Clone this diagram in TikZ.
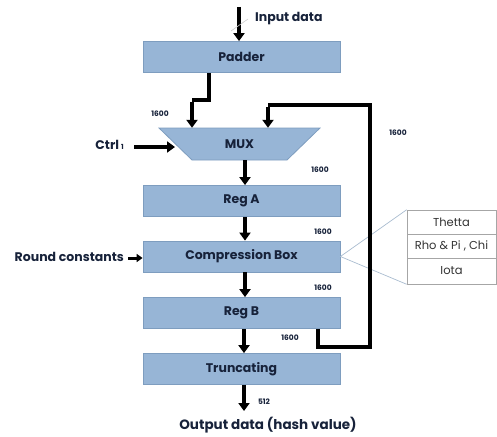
\documentclass[tikz,border=0pt]{standalone}
\usepackage{fontspec}
\setmainfont{Poppins}
\usetikzlibrary{arrows.meta}
\definecolor{boxfill}{HTML}{97B5D6}
\definecolor{boxline}{HTML}{7E9DBF}
\definecolor{txtdark}{HTML}{17223A}
\definecolor{callout}{HTML}{A9BCCF}
\tikzset{
  blk/.style={draw=boxline, line width=0.8pt, fill=boxfill, minimum width=197pt, minimum height=31pt, inner sep=0pt, font=\fontsize{12.5}{14}\selectfont\bfseries, text=txtdark},
  bus/.style={line width=3.6pt, -{Triangle[width=11pt,length=8pt]}},
  busline/.style={line width=3.8pt},
  lbl/.style={font=\fontsize{7.5}{9}\selectfont\bfseries, text=txtdark, inner sep=0pt},
  side/.style={font=\fontsize{12.5}{14}\selectfont\bfseries, text=txtdark, inner sep=0pt},
  cell/.style={draw=gray!70, line width=0.6pt, fill=white, minimum width=89pt, inner sep=0pt, font=\fontsize{11.5}{13}\selectfont, text=black!80}
}
\begin{document}
\begin{tikzpicture}[x=1pt,y=-1pt]
\useasboundingbox (0,0) rectangle (497,436);
% blocks
\node[blk] (padder) at (241.5,57) {Padder};
\fill[boxfill, draw=boxline, line width=0.8pt] (159,128) -- (320,128) -- (287,160) -- (192,160) -- cycle;
\node[minimum width=95pt, minimum height=32pt, inner sep=0pt, font=\fontsize{12.5}{14}\selectfont\bfseries, text=txtdark] (mux) at (239.5,144) {MUX};
\node[blk] (rega) at (241.5,201) {Reg A};
\node[blk] (comp) at (241.5,256.5) {Compression Box};
\node[blk] (regb) at (241.5,313) {Reg B};
\node[blk] (trunc) at (241.5,369) {Truncating};
% table
\node[cell, minimum height=24pt] (t1) at (451.5,222) {Thetta};
\node[cell, minimum height=24pt] (t2) at (451.5,246) {Rho \& Pi , Chi};
\node[cell, minimum height=26pt] (t3) at (451.5,271) {Iota};
\draw[callout, line width=0.7pt] (t1.north west) -- (comp.east) -- (t3.south west);
% input
\coordinate (inp) at (239,7);
\draw[bus] (inp) -- (inp |- padder.north);
\coordinate (sl1) at (231,31);
\coordinate (sl2) at (248,19);
\draw[gray!40, line width=0.6pt] (sl1) -- (sl2);
\node[side, anchor=west] (inlbl) at (255,19) {Input data};
% padder to mux
\coordinate (p1) at (209,100);
\coordinate (p2) at (192,100);
\draw[busline] (padder.south -| p1) -- (p1) -- (p2);
\draw[bus] ([yshift=-1.9pt]p2) -- (p2 |- mux.north);
\node[lbl] (l1) at (160,114) {1600};
% feedback
\coordinate (f1) at (318,347);
\coordinate (f2) at (370,347);
\coordinate (f3) at (370,105);
\coordinate (f4) at (268,105);
\draw[busline, line join=miter] (regb.south -| f1) -- (f1) -- (f2) -- (f3) -- (f4);
\draw[bus] ([yshift=-1.9pt]f4) -- (f4 |- mux.north);
\node[lbl] (l2) at (398,133) {1600};
% ctrl
\node[side, anchor=east] (ctrl) at (124,145) {Ctrl\,{\fontsize{7}{8}\selectfont 1}};
\coordinate (c1) at (134,147);
\coordinate (c2) at (175,147);
\draw[bus] (c1) -- (c2);
% vertical chain
\coordinate (v) at (245,0);
\draw[bus] (v |- mux.south) -- (v |- rega.north);
\node[lbl] (l3) at (320,170) {1600};
\draw[bus] (v |- rega.south) -- (v |- comp.north);
\node[lbl] (l4) at (323,232) {1600};
\draw[bus] (v |- comp.south) -- (v |- regb.north);
\node[lbl] (l5) at (323,288) {1600};
\coordinate (w) at (244,0);
\draw[bus] (w |- regb.south) -- (w |- trunc.north);
\node[lbl] (l6) at (290,338) {1600};
\coordinate (o) at (244,411);
\draw[bus] (w |- trunc.south) -- (o);
\node[lbl] (l7) at (264,402) {512};
\node[side, font=\fontsize{13.5}{15}\selectfont\bfseries] (out) at (268,425) {Output data (hash value)};
% round constants
\node[side, anchor=east] (rc) at (124,257) {Round constants};
\coordinate (r1) at (128,258);
\draw[line width=3pt, -{Triangle[width=8pt,length=6pt]}] (r1) -- (r1 -| comp.west);
\end{tikzpicture}
\end{document}
